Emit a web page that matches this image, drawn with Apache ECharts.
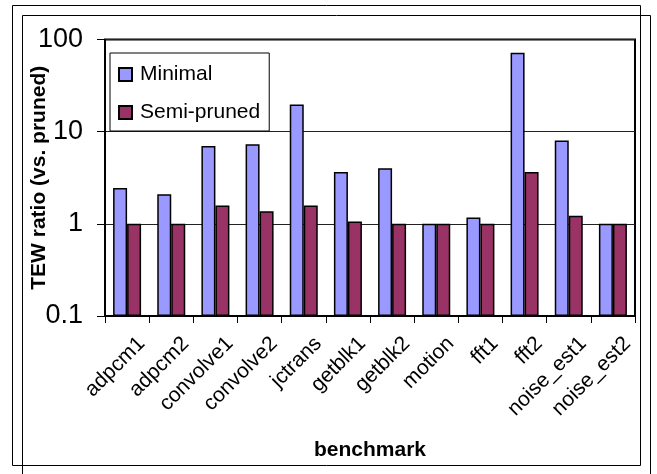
<!DOCTYPE html>
<html>
<head>
<meta charset="utf-8">
<script src="https://cdn.jsdelivr.net/npm/echarts@6/dist/echarts.min.js"></script>
<style>
    html, body { margin: 0; padding: 0; background: #fff; }
    #box { width: 657px; height: 474px; }
</style>
</head>
<body>
<div id="box"></div>
<script>
    // benchmarks on the x axis
    var benchmarks = ['adpcm1', 'adpcm2', 'convolve1', 'convolve2', 'jctrans', 'getblk1',
        'getblk2', 'motion', 'fft1', 'fft2', 'noise_est1', 'noise_est2'];
    // TEW ratio (vs. pruned)
    var minimal = [2.45, 2.1, 7.0, 7.3, 19.7, 3.65, 4.0, 1.0, 1.17, 72, 8.0, 1.0];
    var semiPruned = [1.0, 1.0, 1.58, 1.37, 1.58, 1.06, 1.0, 1.0, 1.0, 3.65, 1.22, 1.0];
    var yTicks = [0.1, 1, 10, 100];

    var font = 'Liberation Sans, Arial, sans-serif';
    var myChart = echarts.init(document.getElementById('box'));
    var option = {
        backgroundColor: '#fff',
        animation: false,
        textStyle: { fontFamily: font, color: '#000' },
        graphic: [
            // the two offset frames around the chart
            { type: 'rect', silent: true, shape: { x: 12.5, y: 5.5, width: 628, height: 460 },
              style: { fill: null, stroke: '#000', lineWidth: 1 } },
            { type: 'rect', silent: true, shape: { x: 22.5, y: 15.5, width: 628, height: 470 },
              style: { fill: null, stroke: '#000', lineWidth: 1 } }
        ],
        grid: {
            left: 105, right: 22, top: 39.5, bottom: 158,
            show: true, borderColor: '#000', borderWidth: 2, backgroundColor: '#fff'
        },
        legend: {
            orient: 'vertical',
            left: 110, top: 53,
            padding: [11, 9, 8, 8],
            itemWidth: 13, itemHeight: 13, itemGap: 17,
            borderColor: '#000', borderWidth: 1, backgroundColor: '#fff',
            icon: 'rect',
            textStyle: { fontFamily: font, fontSize: 21, lineHeight: 21, color: '#000', padding: [0, 0, 0, 3] },
            data: ['Minimal', 'Semi-pruned']
        },
        xAxis: {
            type: 'category',
            data: benchmarks,
            name: 'benchmark',
            nameLocation: 'middle',
            nameGap: 124,
            nameMoveOverlap: false,
            nameTextStyle: { fontFamily: font, fontSize: 21, fontWeight: 'bold', color: '#000' },
            axisLine: { lineStyle: { color: '#000', width: 1 } },
            axisTick: { show: true, length: 7, lineStyle: { color: '#000' } },
            axisLabel: {
                rotate: 45, interval: 0, margin: 10,
                fontFamily: font, fontSize: 21, color: '#000',
                verticalAlign: 'top', padding: [10, 0, 0, 0]
            }
        },
        yAxis: {
            type: 'log',
            logBase: 10,
            min: 0.1,
            max: 100,
            startValue: 0.1,
            name: 'TEW ratio (vs. pruned)',
            nameLocation: 'middle',
            nameGap: 55,
            nameMoveOverlap: false,
            nameTextStyle: { fontFamily: font, fontSize: 21, fontWeight: 'bold', color: '#000' },
            axisLine: { show: true, lineStyle: { color: '#000', width: 1 } },
            axisTick: { show: true, length: 8, lineStyle: { color: '#000' } },
            axisLabel: {
                margin: 22,
                fontFamily: font, fontSize: 27, color: '#000',
                formatter: function (v) {
                    for (var i = 0; i < yTicks.length; i++) {
                        if (Math.abs(v - yTicks[i]) < 1e-6 * yTicks[i]) return String(yTicks[i]);
                    }
                    return '';
                }
            },
            splitLine: { show: true, lineStyle: { color: '#222', width: 1 } }
        },
        series: [
            {
                name: 'Minimal',
                type: 'bar',
                data: minimal,
                barWidth: 14,
                barGap: '0%',
                itemStyle: { color: '#9999FF', borderColor: '#000', borderWidth: 1.5 }
            },
            {
                name: 'Semi-pruned',
                type: 'bar',
                data: semiPruned,
                barWidth: 14,
                barGap: '0%',
                itemStyle: { color: '#993366', borderColor: '#000', borderWidth: 1.5 }
            }
        ]
    };
    myChart.setOption(option);
</script>
</body>
</html>
